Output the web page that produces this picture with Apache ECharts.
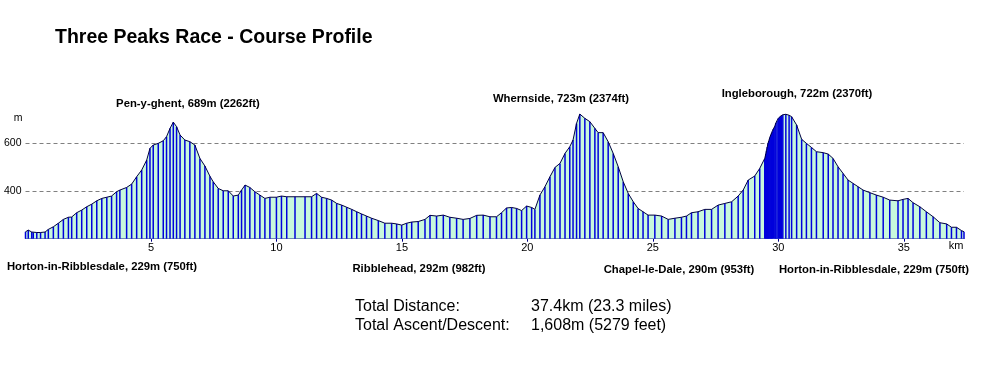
<!DOCTYPE html>
<html>
<head>
<meta charset="utf-8">
<script src="https://cdn.jsdelivr.net/npm/echarts@6/dist/echarts.min.js"></script>
<style>
html,body{margin:0;padding:0;background:#fff;}
#chart{width:985px;height:376px;}
</style>
</head>
<body>
<div id="chart"></div>
<script>
// Distance along course (km) and elevation (m)
var distanceKm = [
  0.00,0.11,0.25,0.31,0.45,0.60,0.78,0.91,1.11,1.31,1.51,1.71,1.84,2.04,2.24,2.44,2.64,2.84,3.04,3.24,
  3.43,3.63,3.76,4.03,4.23,4.43,4.63,4.83,4.96,5.09,5.29,5.49,5.62,5.76,5.89,6.02,6.16,6.35,6.55,6.75,
  6.95,7.15,7.35,7.48,7.68,7.88,8.08,8.28,8.48,8.61,8.75,8.94,9.14,9.34,9.54,9.74,10.00,10.20,10.41,10.74,
  11.14,11.40,11.60,11.80,12.00,12.20,12.40,12.60,12.80,13.00,13.20,13.39,13.59,13.79,14.06,14.32,14.59,14.79,14.99,15.19,
  15.39,15.65,15.92,16.12,16.38,16.65,16.91,17.18,17.44,17.71,17.98,18.24,18.51,18.77,18.97,19.17,19.37,19.57,19.77,19.97,
  20.17,20.30,20.50,20.70,20.90,21.10,21.30,21.50,21.69,21.82,21.96,22.09,22.29,22.49,22.69,22.82,23.02,23.22,23.42,23.62,
  23.82,24.02,24.22,24.41,24.61,24.81,25.08,25.35,25.61,25.88,26.14,26.34,26.54,26.80,27.07,27.34,27.60,27.87,28.14,28.40,
  28.60,28.80,29.06,29.26,29.46,29.50,29.53,29.56,29.59,29.62,29.66,29.70,29.73,29.76,29.80,29.86,29.90,29.95,30.00,30.05,
  30.09,30.13,30.18,30.30,30.43,30.53,30.73,30.93,31.12,31.32,31.52,31.79,31.99,32.18,32.38,32.58,32.78,32.98,33.18,33.38,
  33.65,33.91,34.18,34.44,34.77,34.97,35.17,35.37,35.64,35.90,36.17,36.44,36.71,36.90,37.10,37.30,37.40
];
var elevationM = [
  229,236,228,226,226,226,228,239,250,265,281,290,291,309,320,334,345,359,369,374,
  379,397,404,415,429,460,488,530,579,593,600,611,628,663,689,670,635,614,607,593,
  537,505,462,439,411,401,401,379,383,404,425,415,397,383,369,374,374,379,376,376,
  376,376,390,374,369,362,348,341,332,323,313,304,295,286,276,265,265,262,257,265,
  270,272,281,298,295,299,290,286,281,285,298,299,292,292,309,329,331,327,318,337,
  331,323,383,418,460,499,516,558,586,614,684,723,705,691,663,645,645,607,558,502,
  439,390,355,327,313,299,299,295,281,286,290,295,309,313,323,323,341,348,355,379,
  404,446,463,495,537,555,570,585,600,610,625,635,642,650,660,672,685,695,705,710,
  714,716,720,722,718,712,677,617,600,583,565,561,555,537,502,474,446,432,418,404,
  393,383,374,362,359,365,369,351,334,313,292,267,262,248,248,234,229
];
var xTicks = [5, 10, 15, 20, 25, 30, 35];
var yTicks = [400, 600];
var peakLabels = ['Pen-y-ghent, 689m (2262ft)', 'Whernside, 723m (2374ft)', 'Ingleborough, 722m (2370ft)'];
var placeLabels = ['Horton-in-Ribblesdale, 229m (750ft)', 'Ribblehead, 292m (982ft)', 'Chapel-le-Dale, 290m (953ft)', 'Horton-in-Ribblesdale, 229m (750ft)'];
var totalsLabels = ['Total Distance:', 'Total Ascent/Descent:'];
var totalsValues = ['37.4km (23.3 miles)', '1,608m (5279 feet)'];

var points = distanceKm.map(function (d, i) { return [d, elevationM[i]]; });

var FONT = 'Arial, "Liberation Sans", sans-serif';
function txt(text, x, y, size, bold, align) {
  return {
    type: 'text', x: x, y: y, silent: true,
    style: {
      text: text, fill: '#000',
      font: (bold ? 'bold ' : '') + size + 'px ' + FONT,
      align: align || 'center', verticalAlign: 'middle'
    }
  };
}

var chart = echarts.init(document.getElementById('chart'), null, { renderer: 'canvas' });
chart.setOption({
  animation: false,
  backgroundColor: '#ffffff',
  title: {
    text: 'Three Peaks Race - Course Profile',
    left: 50, top: 23,
    textStyle: { fontFamily: FONT, fontSize: 19.5, fontWeight: 'bold', color: '#000' }
  },
  grid: { left: 25.5, right: 21, top: 110, bottom: 376 - 238.7, containLabel: false },
  xAxis: {
    type: 'value', min: 0, max: 37.4, interval: 5,
    axisLine: { show: true, lineStyle: { color: '#000080', width: 1 } },
    axisTick: { show: true, length: 3, lineStyle: { color: '#000080' } },
    splitLine: { show: false },
    axisLabel: {
      margin: 4, color: '#000', fontFamily: FONT, fontSize: 11,
      showMinLabel: false, showMaxLabel: false,
      formatter: function (v) { return xTicks.indexOf(v) >= 0 ? String(v) : ''; }
    }
  },
  yAxis: {
    type: 'value', min: 200, max: 740, interval: 200,
    axisLine: { show: false }, axisTick: { show: false },
    splitLine: { show: true, showMinLine: false, showMaxLine: false,
      lineStyle: { color: '#808080', type: [4, 3], width: 1 } },
    axisLabel: {
      margin: 4, color: '#000', fontFamily: FONT, fontSize: 10.5,
      showMinLabel: false, showMaxLabel: false,
      formatter: function (v) { return yTicks.indexOf(v) >= 0 ? String(v) : ''; }
    }
  },
  series: [
    {
      type: 'line', data: points, showSymbol: false, z: 1,
      lineStyle: { width: 0 },
      areaStyle: { color: '#c8f8dc', opacity: 1 }
    },
    {
      type: 'bar', data: points, barWidth: 1.5, z: 2,
      itemStyle: { color: '#0000dc' }
    },
    {
      type: 'line', data: points, showSymbol: false, z: 3,
      lineStyle: { color: '#000040', width: 1 }
    }
  ],
  graphic: [
    txt('m', 18, 118.5, 10.5, false),
    txt('km', 956, 246, 11, false),
    txt(peakLabels[0], 188, 104, 11.3, true),
    txt(peakLabels[1], 561, 99, 11.3, true),
    txt(peakLabels[2], 797, 94, 11.3, true),
    txt(placeLabels[0], 102, 267, 11.3, true),
    txt(placeLabels[1], 419, 269, 11.3, true),
    txt(placeLabels[2], 679, 270, 11.3, true),
    txt(placeLabels[3], 874, 270, 11.3, true),
    txt(totalsLabels[0], 355, 307, 16, false, 'left'),
    txt(totalsValues[0], 531, 307, 16, false, 'left'),
    txt(totalsLabels[1], 355, 326, 16, false, 'left'),
    txt(totalsValues[1], 531, 326, 16, false, 'left')
  ]
});
</script>
</body>
</html>
